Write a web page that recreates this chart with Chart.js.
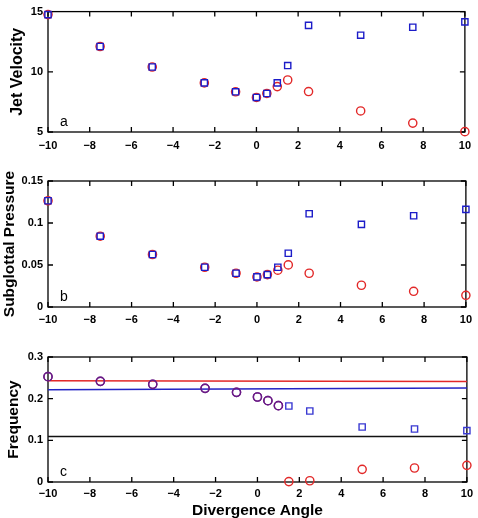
<!DOCTYPE html>
<html>
<head>
<meta charset="utf-8">
<script src="https://cdn.jsdelivr.net/npm/chart.js@4.4.0/dist/chart.umd.min.js"></script>
<style>
  body { margin: 0; background: #fff; }
  #wrap { position: relative; width: 478px; height: 518px; }
  .panel { position: absolute; left: 0; width: 478px; }
</style>
</head>
<body>
<div id="wrap">
  <div class="panel" style="top:0;height:160px"><canvas id="velChart"></canvas></div>
  <div class="panel" style="top:160px;height:175px"><canvas id="presChart"></canvas></div>
  <div class="panel" style="top:335px;height:183px"><canvas id="freqChart"></canvas></div>
</div>
<script>
// ===== DATA =====
const angles = [-10, -7.5, -5, -2.5, -1, 0, 0.5, 1, 1.5, 2.5, 5, 7.5, 10];

const velBlue = [14.75, 12.1, 10.4, 9.08, 8.34, 7.87, 8.2, 9.08, 10.52, 13.86, 13.04, 13.7, 14.15];
const velRed  = [14.75, 12.1, 10.4, 9.08, 8.34, 7.87, 8.2, 8.77, 9.32, 8.36, 6.75, 5.74, 5.03];

const presBlue = [0.1265, 0.0843, 0.0625, 0.0473, 0.0402, 0.0358, 0.0386, 0.0473, 0.064, 0.111, 0.0983, 0.1086, 0.1162];
const presRed  = [0.1265, 0.0843, 0.0625, 0.0473, 0.0402, 0.0358, 0.0386, 0.0438, 0.0501, 0.0402, 0.0259, 0.0187, 0.0139];

const freqBlue = [0.2528, 0.2416, 0.2344, 0.2248, 0.2152, 0.204, 0.1952, 0.1832, 0.1824, 0.1704, 0.132, 0.1272, 0.1232];
const freqRed  = [0.2528, 0.2416, 0.2344, 0.2248, 0.2152, 0.204, 0.1952, 0.1832, 0.001, 0.003, 0.0304, 0.0336, 0.04];

// reference lines in panel c (value at x = -10 and x = 10)
const lineEnds = [-10, 10];
const lineRed   = [0.243, 0.241];
const lineBlue  = [0.2215, 0.2255];
const lineBlack = [0.1095, 0.109];

const xTicks = { min: -10, max: 10, step: 2 };

// ===== STYLE =====
const BLUE = '#1c1cc8';
const RED = '#e22828';
const PURPLE = '#6a1a86';

Chart.defaults.font.family = '"Liberation Sans", Arial, sans-serif';
Chart.defaults.font.size = 11;
Chart.defaults.font.weight = 'bold';
Chart.defaults.color = '#000';

function toPoints(xs, ys) {
    return xs.map((x, i) => ({ x: x, y: ys[i] }));
}

// matlab-like box with inward ticks + panel letter
const boxPlugin = {
    id: 'box',
    beforeDatasetsDraw(chart, args, opts) {
        const { ctx, chartArea: a } = chart;
        const x = chart.scales.x, y = chart.scales.y;
        ctx.save();
        ctx.strokeStyle = '#000';
        ctx.lineWidth = 1.3;
        ctx.strokeRect(a.left, a.top, a.right - a.left, a.bottom - a.top);
        ctx.beginPath();
        x.ticks.forEach(t => {
            const px = x.getPixelForValue(t.value);
            ctx.moveTo(px, a.bottom); ctx.lineTo(px, a.bottom - 5);
            ctx.moveTo(px, a.top); ctx.lineTo(px, a.top + 5);
        });
        y.ticks.forEach(t => {
            const py = y.getPixelForValue(t.value);
            ctx.moveTo(a.left, py); ctx.lineTo(a.left + 5, py);
            ctx.moveTo(a.right, py); ctx.lineTo(a.right - 5, py);
        });
        ctx.stroke();
        ctx.font = '14px "Liberation Sans", Arial, sans-serif';
        ctx.fillStyle = '#000';
        ctx.fillText(opts.letter || '', a.left + 12, a.bottom - 6);
        ctx.restore();
    }
};

function makePanel(id, cfg) {
    const ctx = document.getElementById(id).getContext('2d');
    return new Chart(ctx, {
        type: 'scatter',
        data: { datasets: cfg.datasets },
        options: {
            responsive: true,
            maintainAspectRatio: false,
            animation: false,
            layout: { padding: { top: cfg.padTop, right: 7, left: 0, bottom: 0 } },
            plugins: {
                legend: { display: false },
                tooltip: { enabled: false },
                box: { letter: cfg.letter }
            },
            scales: {
                x: {
                    type: 'linear',
                    min: xTicks.min,
                    max: xTicks.max,
                    grid: { display: false, drawTicks: false },
                    border: { display: false },
                    ticks: {
                        stepSize: xTicks.step,
                        padding: cfg.xTickPad,
                        maxRotation: 0,
                        callback: v => (v < 0 ? '\u2212' + (-v) : String(v))
                    },
                    title: {
                        display: !!cfg.xTitle,
                        text: cfg.xTitle || '',
                        font: { size: 15.5, weight: 'bold' },
                        padding: { top: 0, bottom: -2 }
                    },
                    afterFit: s => { s.height = cfg.xHeight; }
                },
                y: {
                    min: cfg.yMin,
                    max: cfg.yMax,
                    grid: { display: false, drawTicks: false },
                    border: { display: false },
                    ticks: {
                        stepSize: cfg.yStep,
                        padding: 5,
                        callback: v => String(Number(v.toFixed(3)))
                    },
                    title: {
                        display: true,
                        text: cfg.yTitle,
                        font: { size: cfg.yTitleSize || 15.5, weight: 'bold' },
                        padding: { top: cfg.yTitlePad, bottom: 0 }
                    },
                    afterFit: s => { s.width = 48; }
                }
            }
        },
        plugins: [boxPlugin]
    });
}

function markerSet(ys, color, style, radius) {
    return {
        data: toPoints(angles, ys),
        showLine: false,
        pointStyle: style,
        pointRadius: radius,
        pointBorderColor: color,
        pointBackgroundColor: 'rgba(0,0,0,0)',
        pointBorderWidth: 1.4,
        clip: false
    };
}

function lineSet(ys, color) {
    return {
        data: toPoints(lineEnds, ys),
        showLine: true,
        borderColor: color,
        borderWidth: 1.5,
        pointRadius: 0,
        clip: false
    };
}

// panel a
makePanel('velChart', {
    datasets: [markerSet(velBlue, BLUE, 'rect', 4.4), markerSet(velRed, RED, 'circle', 4.1)],
    yMin: 5, yMax: 15, yStep: 5,
    yTitle: 'Jet Velocity', yTitleSize: 16, yTitlePad: 8,
    padTop: 6, xHeight: 28, xTickPad: 7, letter: 'a'
});

// panel b
makePanel('presChart', {
    datasets: [markerSet(presBlue, BLUE, 'rect', 4.4), markerSet(presRed, RED, 'circle', 4.1)],
    yMin: 0, yMax: 0.15, yStep: 0.05,
    yTitle: 'Subglottal Pressure', yTitlePad: 0,
    padTop: 21, xHeight: 28, xTickPad: 6, letter: 'b'
});

// panel c: overlapping points show as purple circles
const freqOverlap = freqBlue.map((v, i) => v === freqRed[i]);
const freqBlueSet = markerSet(freqBlue, freqOverlap.map(o => o ? PURPLE : '#3a3ad2'),
    freqOverlap.map(o => o ? 'circle' : 'rect'), freqOverlap.map(o => o ? 4.1 : 4.4));
const freqRedSet = markerSet(freqRed, freqOverlap.map(o => o ? PURPLE : RED), 'circle', 4.1);

makePanel('freqChart', {
    datasets: [freqBlueSet, freqRedSet, lineSet(lineRed, RED), lineSet(lineBlue, '#2424c4'), lineSet(lineBlack, '#111')],
    yMin: 0, yMax: 0.3, yStep: 0.1,
    yTitle: 'Frequency', yTitlePad: 4,
    xTitle: 'Divergence Angle',
    padTop: 22, xHeight: 36, xTickPad: 5, letter: 'c'
});
</script>
</body>
</html>
